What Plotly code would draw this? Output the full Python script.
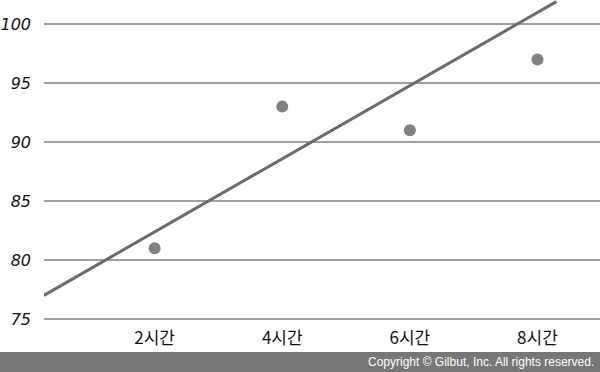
import plotly.graph_objects as go

categories = ["2시간", "4시간", "6시간", "8시간"]
cat_pos = [1, 2, 3, 4]
scores = [81, 93, 91, 97]
trend_x = [0.133, 4.148]
trend_y = [77.0, 101.9]
y_ticks = [75, 80, 85, 90, 95, 100]

W, H = 600, 372
ml, mr, mt, mb = 42, 0, 0, 46
ph = H - mt - mb

fig = go.Figure()
fig.add_trace(go.Scatter(x=trend_x, y=trend_y, mode="lines",
                         line=dict(color="#6b6b6b", width=3), hoverinfo="skip"))
fig.add_trace(go.Scatter(x=cat_pos, y=scores, mode="markers",
                         marker=dict(color="#808080", size=12)))

fig.update_layout(
    width=W, height=H, margin=dict(l=ml, r=mr, t=mt, b=mb),
    paper_bgcolor="white", plot_bgcolor="white", showlegend=False,
    xaxis=dict(range=[0.133, 4.49], tickvals=cat_pos, ticktext=categories,
               showgrid=False, zeroline=False, showline=False, ticks="",
               tickfont=dict(family="Noto Sans CJK KR", size=17, color="#111")),
    yaxis=dict(range=[74.4, 102.04], tickvals=y_ticks, showgrid=True,
               gridcolor="#a0a0a0", gridwidth=1.5, zeroline=False, showline=False,
               ticks="", ticklabelstandoff=12,
               tickfont=dict(family="DejaVu Sans", size=16, color="#111", style="italic")),
)

y0 = -(352 - (H - mb)) / ph
y1 = -(372 - (H - mb)) / ph
fig.add_shape(type="rect", xref="paper", yref="paper",
              x0=-0.12, x1=1.02, y0=y1 - 0.02, y1=y0,
              fillcolor="#777777", line=dict(width=0), layer="above")
fig.add_annotation(xref="paper", yref="paper", x=1 - 4 / (W - ml), y=(y0 + y1) / 2,
                   text="Copyright © Gilbut, Inc. All rights reserved.",
                   showarrow=False, xanchor="right", yanchor="middle",
                   font=dict(family="Liberation Sans", size=12, color="white"))

fig.write_html("out.html")
